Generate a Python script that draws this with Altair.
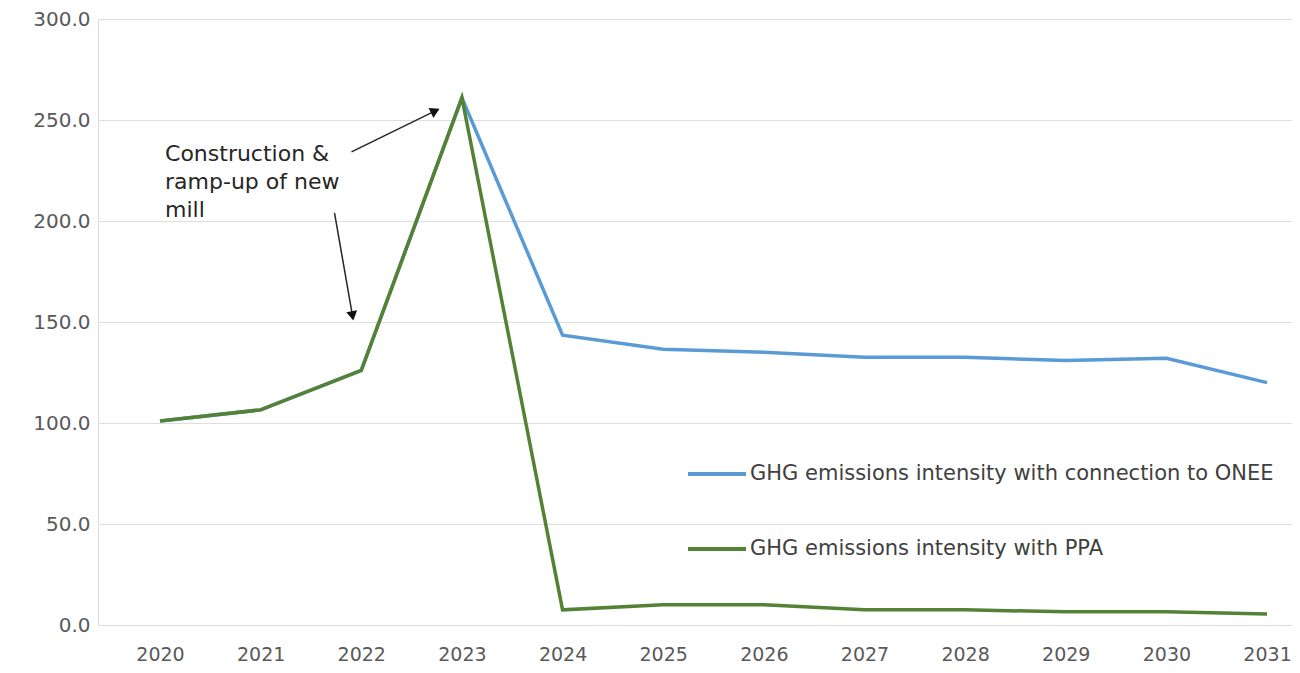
import math
import altair as alt
import pandas as pd

years = [2020, 2021, 2022, 2023, 2024, 2025, 2026, 2027, 2028, 2029, 2030, 2031]
onee = [101, 106.5, 126, 261, 143.5, 136.5, 135, 132.5, 132.5, 131, 132, 120]
ppa = [101, 106.5, 126, 261, 7.5, 10, 10, 7.5, 7.5, 6.5, 6.5, 5.5]
series_names = ["GHG emissions intensity with connection to ONEE",
                "GHG emissions intensity with PPA"]
series_colors = ["#5b9bd5", "#548235"]
y_ticks = [0, 50, 100, 150, 200, 250, 300]

note_lines = ["Construction &", "ramp-up of new", "mill"]
note_x = [2020.05]
note_y = [238]

# arrows (data units): start, head
arrow_x = [2021.903, 2021.734]
arrow_y = [234.2, 204.0]
arrow_x2 = [2022.735, 2021.913]
arrow_y2 = [254.5, 153.0]

FONT = "DejaVu Sans"
W, H = 1194, 606
XMIN, XMAX = 2019.384, 2031.248
YMIN, YMAX = 0, 300
px_x = W / (XMAX - XMIN)
px_y = H / (YMAX - YMIN)

rows = []
for i, yr in enumerate(years):
    rows.append({"year": yr, "value": onee[i], "series": series_names[0], "order": 0})
for i, yr in enumerate(years):
    rows.append({"year": yr, "value": ppa[i], "series": series_names[1], "order": 1})
df = pd.DataFrame(rows)

arr = pd.DataFrame({"x": arrow_x, "y": arrow_y, "x2": arrow_x2, "y2": arrow_y2})
arr["angle"] = [
    (math.degrees(math.atan2((x2 - x1) * px_x, (y2 - y1) * px_y)) + 360) % 360
    for x1, y1, x2, y2 in zip(arrow_x, arrow_y, arrow_x2, arrow_y2)
]

xs = alt.Scale(domain=[XMIN, XMAX], nice=False, zero=False)
ys = alt.Scale(domain=[YMIN, YMAX], nice=False)

lines = alt.Chart(df).mark_line(strokeWidth=3.5, clip=True).encode(
    x=alt.X("year:Q", scale=xs, title=None,
            axis=alt.Axis(values=years, format="d", grid=False, domain=False,
                          ticks=False, labelPadding=20, labelFontSize=19,
                          labelColor="#595959", labelFont=FONT)),
    y=alt.Y("value:Q", scale=ys, title=None,
            axis=alt.Axis(values=y_ticks, format=".1f", grid=True, gridColor="#dedede",
                          domain=False, ticks=False, labelPadding=8, labelFontSize=20,
                          labelColor="#595959", labelFont=FONT)),
    color=alt.Color("series:N", scale=alt.Scale(domain=series_names, range=series_colors),
                    legend=alt.Legend(title=None, orient="none", legendX=588, legendY=424,
                                      symbolType="stroke", symbolSize=3364,
                                      symbolStrokeWidth=4, labelFontSize=21,
                                      labelFont=FONT, labelColor="#404040",
                                      labelOffset=2, rowPadding=34, labelLimit=0)),
    order="order:Q",
    detail="series:N",
)

note = alt.Chart(pd.DataFrame({"x": note_x, "y": note_y, "t": [note_lines]})).mark_text(
    align="left", baseline="top", fontSize=22, font=FONT, color="#262626", lineHeight=28
).encode(x=alt.X("x:Q", scale=xs), y=alt.Y("y:Q", scale=ys), text="t")

rules = alt.Chart(arr).mark_rule(color="#262626", strokeWidth=1.5).encode(
    x=alt.X("x:Q", scale=xs), y=alt.Y("y:Q", scale=ys),
    x2="x2:Q", y2="y2:Q")

heads = alt.Chart(arr).mark_point(shape="triangle-up", filled=True, size=120,
                                  color="#111111", opacity=1).encode(
    x=alt.X("x2:Q", scale=xs), y=alt.Y("y2:Q", scale=ys),
    angle=alt.Angle("angle:Q", scale=None))

chart = alt.layer(lines, rules, heads, note).properties(
    width=W, height=H,
    autosize=alt.AutoSizeParams(type="none"),
    padding={"left": 90, "top": 11, "right": 0, "bottom": 40},
).configure_view(stroke=None).configure(font=FONT)

chart.save("out.html", embed_options={"renderer": "svg", "actions": False})
